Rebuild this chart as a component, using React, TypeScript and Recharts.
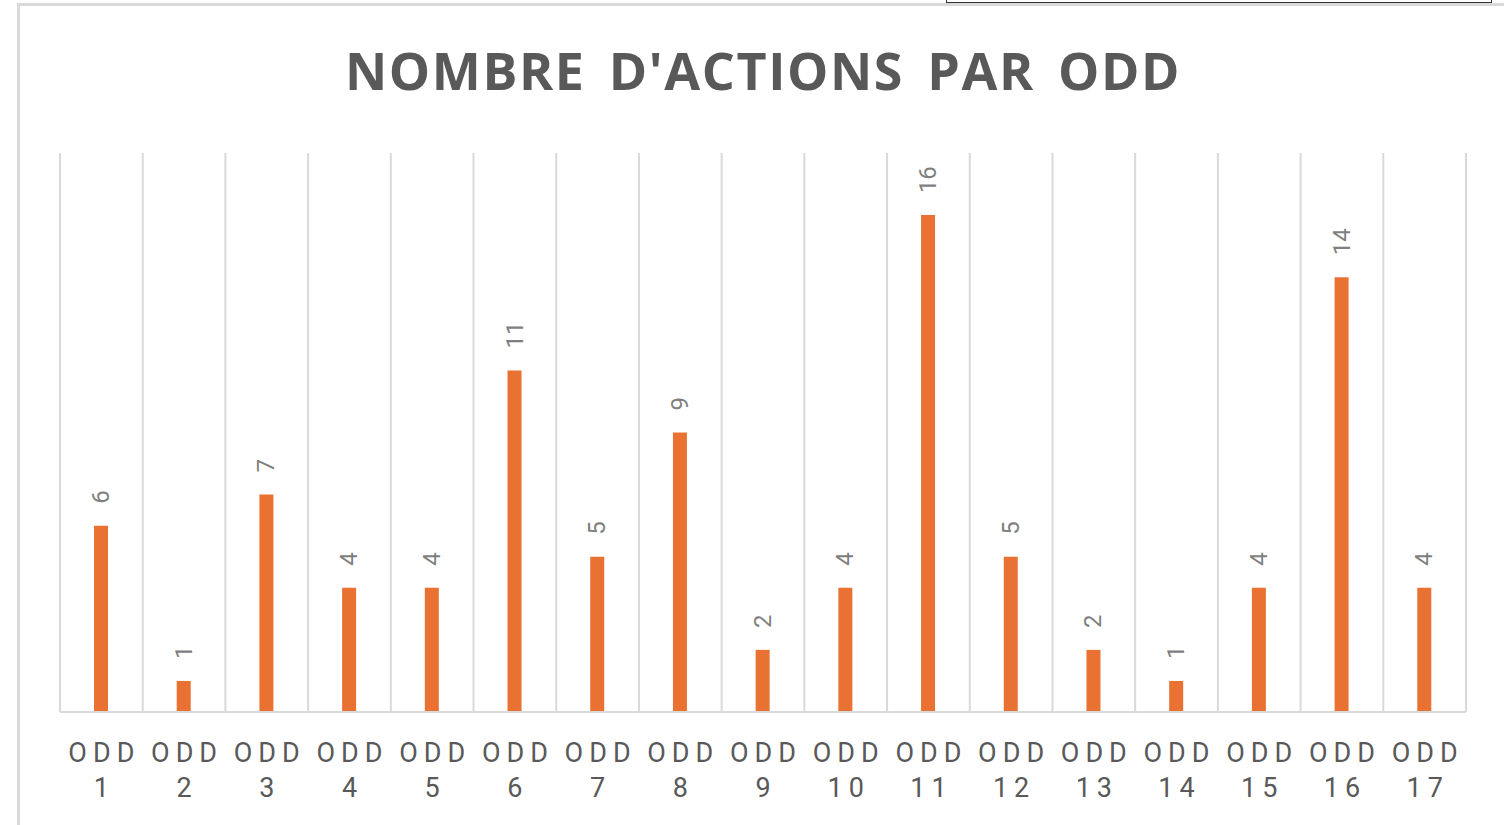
import { BarChart, Bar, XAxis, YAxis, CartesianGrid, LabelList } from "recharts";

const categories = [
  "1", "2", "3", "4", "5", "6", "7", "8", "9",
  "10", "11", "12", "13", "14", "15", "16", "17",
];
const actions = [6, 1, 7, 4, 4, 11, 5, 9, 2, 4, 16, 5, 2, 1, 4, 14, 4];

const data = categories.map((c, i) => ({ name: c, value: actions[i] }));

const ORANGE = "#E97132";
const GRID = "#d9d9d9";
const TEXT = "#595959";

// two-line tick: "ODD" then the number, both letter-spaced like the Excel export
function OddTick(props: any) {
  const { x, y, payload } = props;
  return (
    <g transform={`translate(${x},${y})`}>
      <text
        textAnchor="middle"
        fill={TEXT}
        fontFamily="Roboto, 'Liberation Sans', sans-serif"
        fontSize={27}
        letterSpacing={6}
      >
        <tspan x={3} dy={42}>ODD</tspan>
        <tspan x={3} dy={35}>{payload.value}</tspan>
      </text>
    </g>
  );
}

function VerticalLabel(props: any) {
  const { x, y, width, value } = props;
  const cx = x + width / 2;
  const cy = y - 22;
  return (
    <text
      x={cx}
      y={cy}
      transform={`rotate(-90 ${cx} ${cy})`}
      textAnchor="start"
      dominantBaseline="central"
      fill="#7f7f7f"
      fontFamily="Roboto, 'Liberation Sans', sans-serif"
      fontSize={24}
    >
      {value}
    </text>
  );
}

export default function App() {
  return (
    <div
      style={{
        position: "fixed",
        left: 0,
        top: 0,
        width: 1504,
        height: 825,
        overflow: "hidden",
        background: "#fff",
      }}
    >
      {/* chart frame, cropped on the right and bottom */}
      <div
        style={{
          position: "absolute",
          left: 17,
          top: 3,
          width: 1560,
          height: 900,
          border: `3px solid ${GRID}`,
          boxSizing: "border-box",
        }}
      />
      <div
        style={{
          position: "absolute",
          left: 946,
          top: -10,
          width: 546,
          height: 13,
          border: "1.5px solid #333",
          background: "#fff",
          boxSizing: "border-box",
        }}
      />
      <div
        style={{
          position: "absolute",
          left: 60,
          width: 1406,
          top: 36,
          textAlign: "center",
          fontFamily: "'Open Sans', sans-serif",
          fontWeight: 700,
          fontSize: 52,
          letterSpacing: 1.6,
          wordSpacing: 8,
          color: TEXT,
          lineHeight: "68px",
        }}
      >
        NOMBRE D'ACTIONS PAR ODD
      </div>
      <div style={{ position: "absolute", left: 0, top: 0 }}>
        <BarChart
          width={1504}
          height={825}
          data={data}
          margin={{ top: 153, right: 38, bottom: 13, left: 60 }}
        >
          <CartesianGrid
            horizontal={false}
            stroke={GRID}
            strokeWidth={2}
            verticalCoordinatesGenerator={({ offset }: any) =>
              Array.from(
                { length: categories.length + 1 },
                (_, i) => offset.left + (i * offset.width) / categories.length
              )
            }
          />
          <XAxis
            dataKey="name"
            height={100}
            interval={0}
            tickLine={false}
            axisLine={{ stroke: GRID, strokeWidth: 2 }}
            tick={<OddTick />}
          />
          <YAxis hide domain={[0, 18]} />
          <Bar dataKey="value" fill={ORANGE} barSize={14} isAnimationActive={false}>
            <LabelList dataKey="value" content={<VerticalLabel />} />
          </Bar>
        </BarChart>
      </div>
    </div>
  );
}
